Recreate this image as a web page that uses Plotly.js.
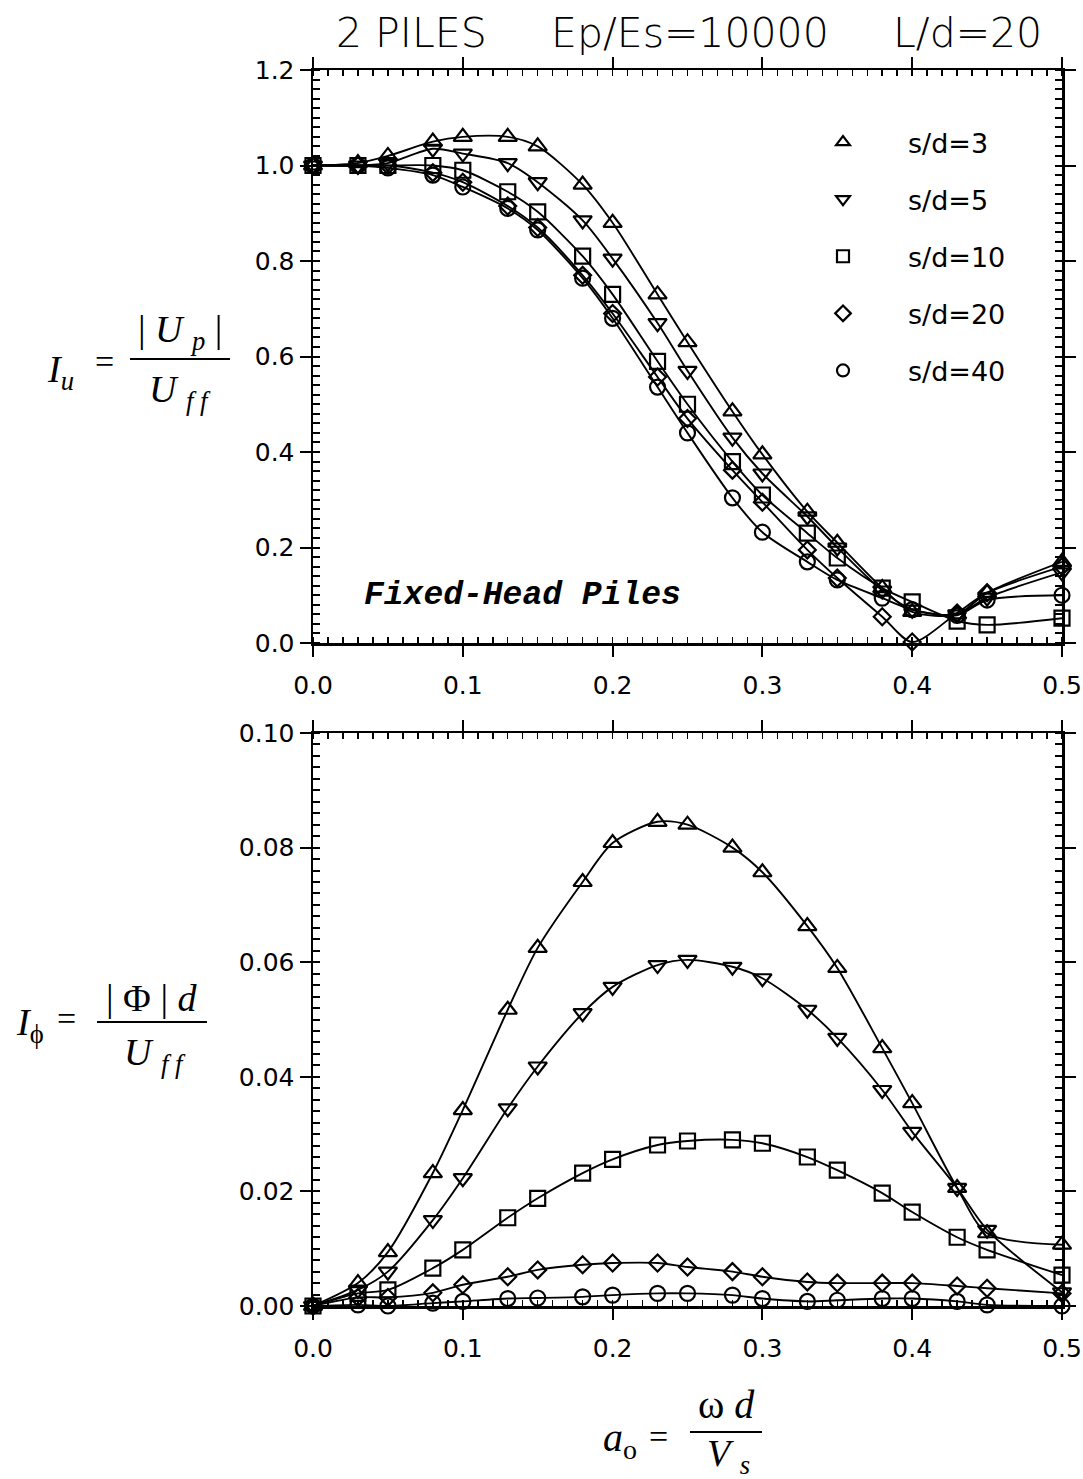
<!DOCTYPE html>
<html><head><meta charset="utf-8">
<script src="https://cdn.plot.ly/plotly-3.0.1.min.js"></script>
<style>html,body{margin:0;padding:0;background:#fff}#c{width:1083px;height:1479px}</style>
</head><body><div id="c"></div>
<script>
// ---- data ----
const ao = [0,0.03,0.05,0.08,0.10,0.13,0.15,0.18,0.20,0.23,0.25,0.28,0.30,0.33,0.35,0.38,0.40,0.43,0.45,0.50];
const seriesNames = ['s/d=3','s/d=5','s/d=10','s/d=20','s/d=40'];
const Iu_sd3  = [1.0,1.005,1.02,1.05,1.06,1.06,1.04,0.96,0.88,0.73,0.63,0.485,0.395,0.275,0.21,0.115,0.065,0.06,0.105,0.17];
const Iu_sd5  = [1.0,1.0,1.005,1.035,1.025,1.005,0.965,0.885,0.805,0.67,0.57,0.43,0.355,0.265,0.2,0.11,0.07,0.06,0.095,0.148];
const Iu_sd10 = [1.0,1.0,1.0,1.0,0.99,0.945,0.903,0.81,0.73,0.59,0.50,0.38,0.31,0.23,0.178,0.115,0.086,0.046,0.038,0.052];
const Iu_sd20 = [1.0,1.0,1.0,0.985,0.965,0.915,0.87,0.77,0.69,0.557,0.47,0.362,0.295,0.195,0.136,0.055,0.002,0.063,0.105,0.16];
const Iu_sd40 = [1.0,1.0,0.995,0.98,0.955,0.91,0.865,0.764,0.68,0.536,0.44,0.304,0.232,0.17,0.132,0.094,0.07,0.058,0.09,0.10];
const Iphi_sd3  = [0,0.004,0.0094,0.0232,0.0342,0.0517,0.0625,0.074,0.0808,0.0845,0.084,0.080,0.0757,0.0663,0.059,0.045,0.0354,0.0206,0.0127,0.0107];
const Iphi_sd5  = [0,0.0028,0.006,0.015,0.0223,0.0345,0.0418,0.0511,0.0557,0.0595,0.0604,0.0592,0.0572,0.0517,0.0468,0.0377,0.0304,0.0206,0.0133,0.0024];
const Iphi_sd10 = [0,0.0022,0.0028,0.0066,0.0098,0.0154,0.0188,0.0232,0.0256,0.0281,0.0288,0.029,0.0284,0.026,0.0237,0.0197,0.0164,0.012,0.0098,0.0054];
const Iphi_sd20 = [0,0.0015,0.0015,0.0023,0.0037,0.0051,0.0063,0.0072,0.0075,0.0075,0.0068,0.006,0.0051,0.0042,0.004,0.004,0.004,0.0035,0.0031,0.0022];
const Iphi_sd40 = [0,0.0002,0,0.0005,0.0008,0.0013,0.0014,0.0016,0.0019,0.0022,0.0022,0.0019,0.0013,0.0008,0.001,0.0013,0.0013,0.0008,0.0002,0];
const xTicks = ['0.0','0.1','0.2','0.3','0.4','0.5'];

// ---- styling ----
const W = 1083, H = 1479;
const px = v => v / W, py = v => 1 - v / H;
const symbols = ['triangle-up-open','triangle-down-open','square-open','diamond-open','circle-open'];
const sizes = [16,16,15,13,15];
const topData = [Iu_sd3, Iu_sd5, Iu_sd10, Iu_sd20, Iu_sd40];
const botData = [Iphi_sd3, Iphi_sd5, Iphi_sd10, Iphi_sd20, Iphi_sd40];

const traces = [];
function addSeries(ys, i, xa, ya) {
  traces.push({
    x: ao, y: ys, xaxis: xa, yaxis: ya, mode: 'lines+markers', showlegend: false,
    cliponaxis: false,
    line: {color: '#000', width: 1.9, shape: 'spline', smoothing: 0.8},
    marker: {symbol: symbols[i], size: sizes[i], color: '#000', line: {color: '#000', width: 2.2}}
  });
}
topData.forEach((ys, i) => addSeries(ys, i, 'x', 'y'));
botData.forEach((ys, i) => addSeries(ys, i, 'x2', 'y2'));
seriesNames.forEach((n, i) => traces.push({
  x: [null], y: [null], xaxis: 'x', yaxis: 'y', mode: 'markers', name: n, legendgroup: 'g' + i,
  marker: {symbol: symbols[i], size: 12, color: '#000', line: {color: '#000', width: 2.2}}
}));

const sans = 'DejaVu Sans, Verdana, sans-serif';
const tickFont = {family: sans, size: 25, color: '#000'};
function axis(extra) {
  return Object.assign({
    showline: true, linecolor: '#000', linewidth: 2.5, mirror: 'allticks',
    ticks: 'outside', ticklen: 11, tickwidth: 2, tickcolor: '#000',
    showgrid: false, zeroline: false, tickfont: tickFont, fixedrange: true
  }, extra);
}
const xDom = [px(313), px(1062)];

const serif = 'Liberation Serif, Times New Roman, serif';
const ann = [];
function A(text, x, y, size, font, extra) {
  ann.push(Object.assign({text, x: px(x), y: py(y), xref: 'paper', yref: 'paper', showarrow: false,
    xanchor: 'center', yanchor: 'middle', font: {family: font || serif, size: size || 34, color: '#000'}}, extra || {}));
}
// title
const tfont = {family: sans, size: 41, color: '#000', weight: 200};
A('2 PILES', 411, 33, 41, sans, {font: tfont});
A('Ep/Es=10000', 690, 33, 41, sans, {font: tfont});
A('L/d=20', 967, 33, 41, sans, {font: tfont});
// in-plot label
A('<b><i>Fixed-Head Piles</i></b>', 522, 595, 33, 'Liberation Mono, Courier New, monospace');
// y title top
A('<i>I</i><sub><i>u</i></sub>', 60, 372, 38);
A('=', 104, 362, 34);
A('| <i>U</i> <sub><i>p</i></sub> |', 180, 332, 38);
A('<i>U</i> <sub><i>f f</i></sub>', 180, 392, 38);
// y title bottom
A('<i>I</i><sub>ϕ</sub>', 30, 1025, 38);
A('=', 66, 1018, 34);
A('| Φ | <i>d</i>', 152, 998, 38);
A('<i>U</i> <sub><i>f f</i></sub>', 155, 1055, 38);
// x title
A('<i>a</i><sub>o</sub>', 620, 1440, 40);
A('=', 658, 1436, 34);
A('ω <i>d</i>', 726, 1404, 40);
A('<i>V</i> <sub><i>s</i></sub>', 728, 1456, 38);

const shapes = [
  {type: 'line', xref: 'paper', yref: 'paper', x0: px(130), x1: px(230), y0: py(359), y1: py(359), line: {color: '#000', width: 2}},
  {type: 'line', xref: 'paper', yref: 'paper', x0: px(97), x1: px(207), y0: py(1022), y1: py(1022), line: {color: '#000', width: 2}},
  {type: 'line', xref: 'paper', yref: 'paper', x0: px(690), x1: px(762), y0: py(1432), y1: py(1432), line: {color: '#000', width: 2}}
];

const layout = {
  width: W, height: H, margin: {l: 0, r: 0, t: 0, b: 0},
  paper_bgcolor: '#fff', plot_bgcolor: '#fff',
  xaxis: axis({domain: xDom, anchor: 'y', range: [0, 0.5], tickvals: [0,0.1,0.2,0.3,0.4,0.5], ticktext: xTicks,
    ticklabelstandoff: 7,
    minor: {dtick: 0.01, ticks: 'inside', ticklen: 6, tickwidth: 1.5, tickcolor: '#000'}}),
  yaxis: axis({domain: [py(643), py(70)], anchor: 'x', range: [0, 1.2], dtick: 0.2, tickformat: '.1f',
    minor: {dtick: 0.02, ticks: 'inside', ticklen: 7, tickwidth: 2, tickcolor: '#000'}}),
  xaxis2: axis({domain: xDom, anchor: 'y2', range: [0, 0.5], tickvals: [0,0.1,0.2,0.3,0.4,0.5], ticktext: xTicks,
    ticklabelstandoff: 7,
    minor: {dtick: 0.01, ticks: 'inside', ticklen: 6, tickwidth: 1.5, tickcolor: '#000'}}),
  yaxis2: axis({domain: [py(1306), py(733)], anchor: 'x2', range: [0, 0.1], dtick: 0.02, tickformat: '.2f',
    minor: {dtick: 0.002, ticks: 'inside', ticklen: 7, tickwidth: 2, tickcolor: '#000'}}),
  showlegend: true,
  legend: {x: px(778), y: py(118), xanchor: 'left', yanchor: 'top', bgcolor: 'rgba(0,0,0,0)',
    font: {family: sans, size: 27, color: '#000'}, itemwidth: 120, traceorder: 'grouped', tracegroupgap: 19},
  annotations: ann, shapes: shapes
};
Plotly.newPlot('c', traces, layout, {staticPlot: true});
</script></body></html>
